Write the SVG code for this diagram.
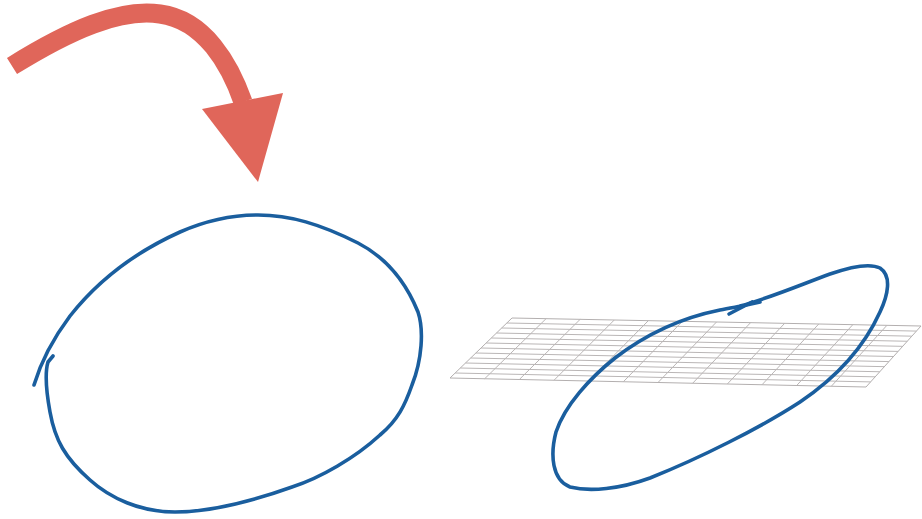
<svg xmlns="http://www.w3.org/2000/svg" width="922" height="519" viewBox="0 0 922 519">
<style>
.loop{fill:none;stroke:#1a5e9e;stroke-width:3.6;stroke-linecap:round;stroke-linejoin:round}
.grid line{stroke:#bab6b6;stroke-width:1}
.grid path{fill:none;stroke:#b3afaf;stroke-width:1}
</style>
<rect width="922" height="519" fill="#ffffff"/>
<g id="red-arrow">
<path d="M12,66 C70,30 120,8 160,14 C205,20 230,65 243,102" fill="none" stroke="#e0665a" stroke-width="19"/>
<polygon points="202,109 283,93 258,182" fill="#e0665a"/>
</g>
<g id="plane" class="grid">
<path d="M512,318 L921,326 L866,387 L450,378 Z"/>
<line x1="506.83" y1="323" x2="916.42" y2="331.08"/>
<line x1="501.67" y1="328" x2="911.83" y2="336.17"/>
<line x1="496.5" y1="333" x2="907.25" y2="341.25"/>
<line x1="491.33" y1="338" x2="902.67" y2="346.33"/>
<line x1="486.17" y1="343" x2="898.08" y2="351.42"/>
<line x1="481" y1="348" x2="893.5" y2="356.5"/>
<line x1="475.83" y1="353" x2="888.92" y2="361.58"/>
<line x1="470.67" y1="358" x2="884.33" y2="366.67"/>
<line x1="465.5" y1="363" x2="879.75" y2="371.75"/>
<line x1="460.33" y1="368" x2="875.17" y2="376.83"/>
<line x1="455.17" y1="373" x2="870.58" y2="381.92"/>
<line x1="546.08" y1="318.67" x2="484.67" y2="378.75"/>
<line x1="580.17" y1="319.33" x2="519.33" y2="379.5"/>
<line x1="614.25" y1="320" x2="554" y2="380.25"/>
<line x1="648.33" y1="320.67" x2="588.67" y2="381"/>
<line x1="682.42" y1="321.33" x2="623.33" y2="381.75"/>
<line x1="716.5" y1="322" x2="658" y2="382.5"/>
<line x1="750.58" y1="322.67" x2="692.67" y2="383.25"/>
<line x1="784.67" y1="323.33" x2="727.33" y2="384"/>
<line x1="818.75" y1="324" x2="762" y2="384.75"/>
<line x1="852.83" y1="324.67" x2="796.67" y2="385.5"/>
<line x1="886.92" y1="325.33" x2="831.33" y2="386.25"/>
</g>
<g id="left-loop">
<path class="loop" d="M34,385 C40,365 52,340 70,316 C100,278 140,250 180,232 C205,221 230,215 258,215 C290,215 320,224 358,243 C385,257 405,280 418,312 C424,330 422,360 412,385 C405,405 398,420 380,435 C355,458 320,478 292,487 C250,502 210,512 175,512 C140,512 110,498 90,480 C65,458 55,440 50,412 C46,390 45,372 48,362 L53,356"/>
</g>
<g id="right-loop">
<path class="loop" d="M740,306 C770,298 800,285 830,274 C850,267 870,263 880,268 C892,276 888,295 880,312 C865,345 840,375 800,402 C760,428 700,458 650,478 C620,489 590,492 570,487 C552,480 550,455 556,432 C565,405 590,378 615,358 C645,335 680,318 720,310 C735,307 748,305 760,302"/>
<path class="loop" d="M752,302 L729,314"/>
</g>
</svg>
